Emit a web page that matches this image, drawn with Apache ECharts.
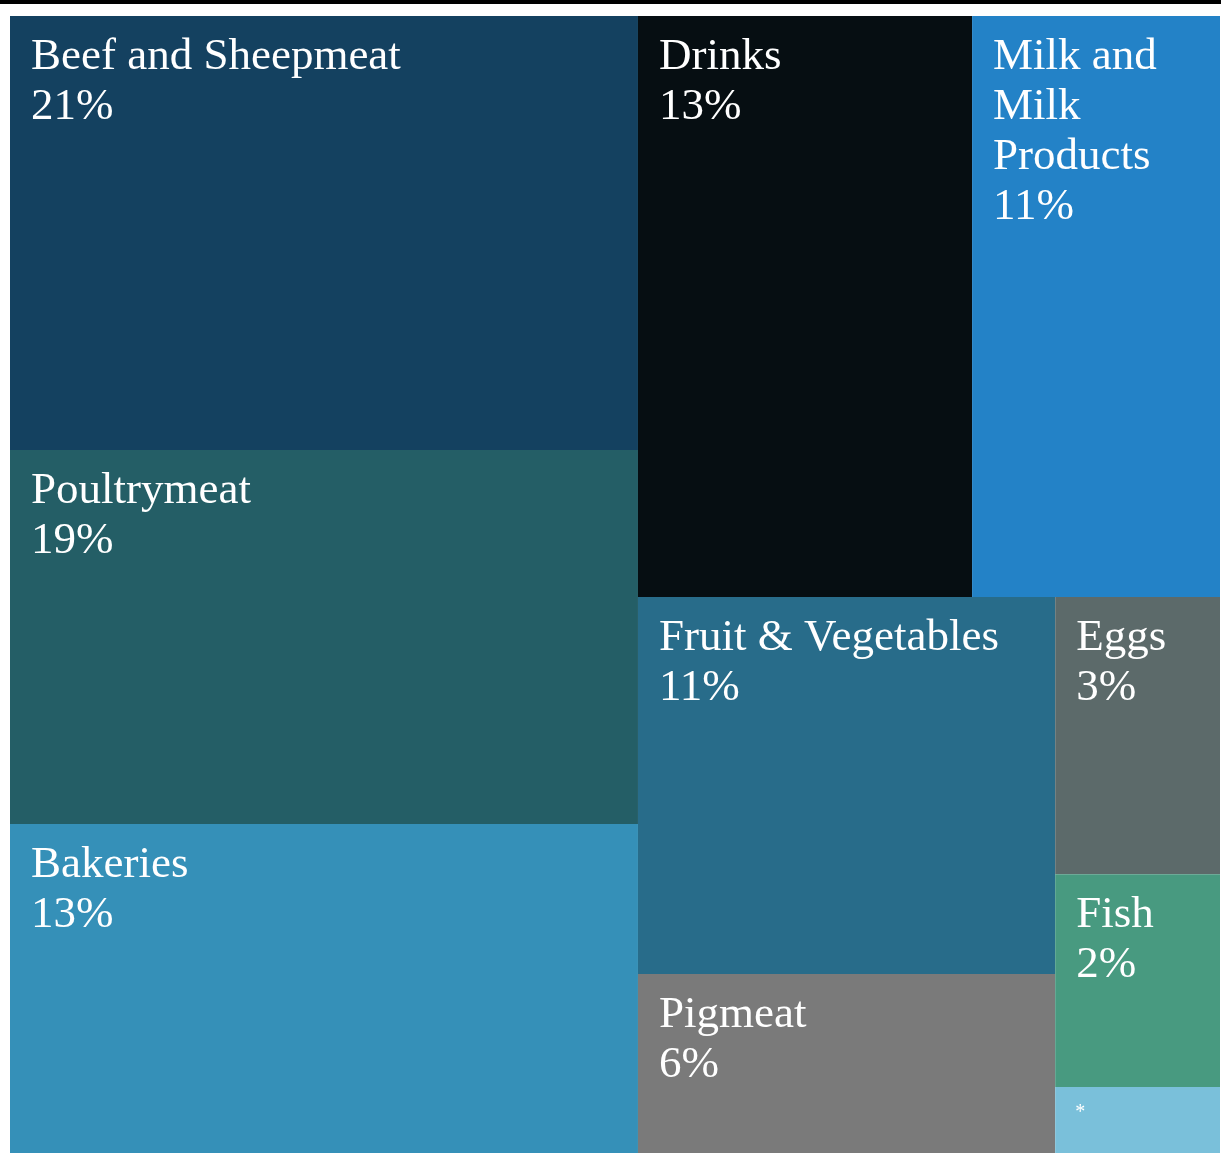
<!DOCTYPE html>
<html>
<head>
<meta charset="utf-8">
<style>
  html, body { margin: 0; padding: 0; background: #fff; }
  #chart { width: 1221px; height: 1153px; }
</style>
<script src="https://cdn.jsdelivr.net/npm/echarts@6/dist/echarts.min.js"></script>
</head>
<body>
<div id="chart"></div>
<script>
// categories, area share of each box (% of the map), printed share, fill colour
const categories = ['Beef and Sheepmeat', 'Poultrymeat', 'Bakeries', 'Drinks', 'Milk and Milk Products',
  'Fruit & Vegetables', 'Pigmeat', 'Eggs', 'Fish', '*'];
const areaShare = [19.81, 17.07, 15.02, 14.11, 10.47, 11.43, 5.43, 3.32, 2.55, 0.79];
const shareLabel = ['21%', '19%', '13%', '13%', '11%', '11%', '6%', '3%', '2%', ''];
const colors = ['#144160', '#245E66', '#3590B8', '#060E12', '#2382C7',
  '#286C8A', '#7A7A7A', '#5C6A6A', '#489A80', '#7AC0DA'];

let chart = echarts.init(document.getElementById('chart'));

function leaf(i) {
  let item = {
    name: categories[i],
    value: areaShare[i],
    pct: shareLabel[i],
    itemStyle: { color: colors[i] }
  };
  if (categories[i] == '*') {
    item.label = { fontSize: 20, lineHeight: 20, padding: [16, 0, 0, 20] };
  }
  return item;
}
function group(name, kids) {
  return { name: name, children: kids };
}

// nesting follows the cuts of the original map
const treeData = [
  group('left', [leaf(0), leaf(1), leaf(2)]),
  group('right', [
    group('top', [leaf(3), leaf(4)]),
    group('bottom', [
      group('mid', [leaf(5), leaf(6)]),
      group('small', [leaf(7), leaf(8), leaf(9)])
    ])
  ])
];

chart.setOption({
  backgroundColor: '#fff',
  graphic: [{
    type: 'rect',
    left: 0, top: 0,
    shape: { width: 1221, height: 4 },
    style: { fill: '#000' }
  }],
  series: [{
    type: 'treemap',
    left: 10, top: 16, width: 1210, height: 1137,
    roam: false,
    nodeClick: false,
    squareRatio: 1,
    sort: 'desc',
    breadcrumb: { show: false },
    animation: false,
    itemStyle: { borderWidth: 0, gapWidth: 0 },
    upperLabel: { show: false },
    label: {
      show: true,
      position: 'insideTopLeft',
      padding: [16, 0, 0, 21],
      color: '#fff',
      fontFamily: 'Liberation Serif',
      fontSize: 45,
      lineHeight: 50,
      overflow: 'break',
      formatter: function (p) {
        return p.data.pct ? p.name + '\n' + p.data.pct : p.name;
      }
    },
    data: treeData
  }]
});
</script>
</body>
</html>
